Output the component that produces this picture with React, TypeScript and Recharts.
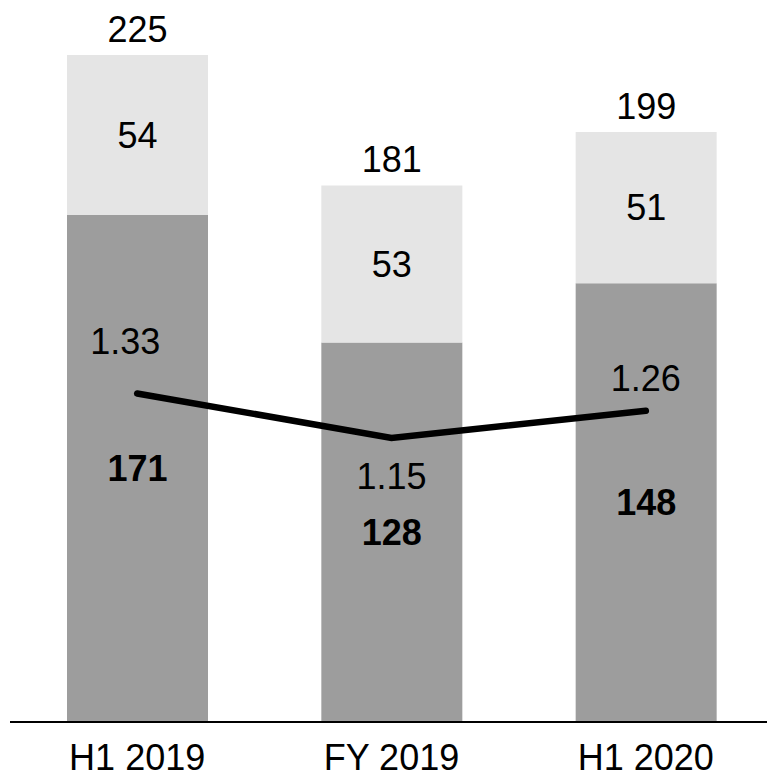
import { Bar, ComposedChart, LabelList, Line, XAxis, YAxis } from "recharts"

const periods = ["H1 2019", "FY 2019", "H1 2020"]
const baseValues = [171, 128, 148]
const extraValues = [54, 53, 51]
const ratioValues = [1.33, 1.15, 1.26]

const data = periods.map((name, i) => ({
  name,
  base: baseValues[i],
  extra: extraValues[i],
  total: baseValues[i] + extraValues[i],
  ratio: ratioValues[i],
}))

const FONT = "'Liberation Sans', Arial, sans-serif"
const DARK = "#9d9d9d"
const LIGHT = "#e5e5e5"

// manual nudges for the ratio labels, like the original
const ratioLabelShift = [
  { dx: -12, dy: -52 },
  { dx: 0, dy: 38 },
  { dx: 0, dy: -33 },
]

function renderRatioLabel(props: any) {
  const { x, y, value, index } = props
  const s = ratioLabelShift[index] || { dx: 0, dy: -30 }
  return (
    <text
      x={Number(x) + s.dx}
      y={Number(y) + s.dy}
      dy="0.355em"
      textAnchor="middle"
      fill="#000"
      fontSize={36}
      fontFamily={FONT}
    >
      {Number(value).toFixed(2)}
    </text>
  )
}

export default function App() {
  return (
    <div
      style={{
        position: "absolute",
        left: 0,
        top: 0,
        width: 767,
        height: 772,
        overflow: "hidden",
        background: "#fff",
      }}
    >
      <ComposedChart
        width={773}
        height={772}
        data={data}
        margin={{ top: 55, right: 0, left: 10, bottom: 0 }}
        barSize={141}
      >
        <XAxis
          dataKey="name"
          height={50}
          tickLine={false}
          tickSize={0}
          tickMargin={22}
          axisLine={{ stroke: "#000", strokeWidth: 2 }}
          tick={{ fill: "#000", fontSize: 36, fontFamily: FONT }}
          interval={0}
        />
        <YAxis yAxisId="bars" hide domain={[0, 225]} />
        <YAxis yAxisId="ratio" hide orientation="right" domain={[0, 2.7]} />
        <Bar yAxisId="bars" dataKey="base" stackId="a" fill={DARK} isAnimationActive={false}>
          <LabelList
            dataKey="base"
            position="center"
            fill="#000"
            fontSize={36}
            fontWeight="bold"
            fontFamily={FONT}
          />
        </Bar>
        <Bar yAxisId="bars" dataKey="extra" stackId="a" fill={LIGHT} isAnimationActive={false}>
          <LabelList dataKey="extra" position="center" fill="#000" fontSize={36} fontFamily={FONT} />
          <LabelList
            dataKey="total"
            position="top"
            offset={13}
            fill="#000"
            fontSize={36}
            fontFamily={FONT}
          />
        </Bar>
        <Line
          yAxisId="ratio"
          dataKey="ratio"
          stroke="#000"
          strokeWidth={6.5}
          strokeLinecap="round"
          dot={false}
          activeDot={false}
          isAnimationActive={false}
        >
          <LabelList dataKey="ratio" content={renderRatioLabel} />
        </Line>
      </ComposedChart>
    </div>
  )
}
